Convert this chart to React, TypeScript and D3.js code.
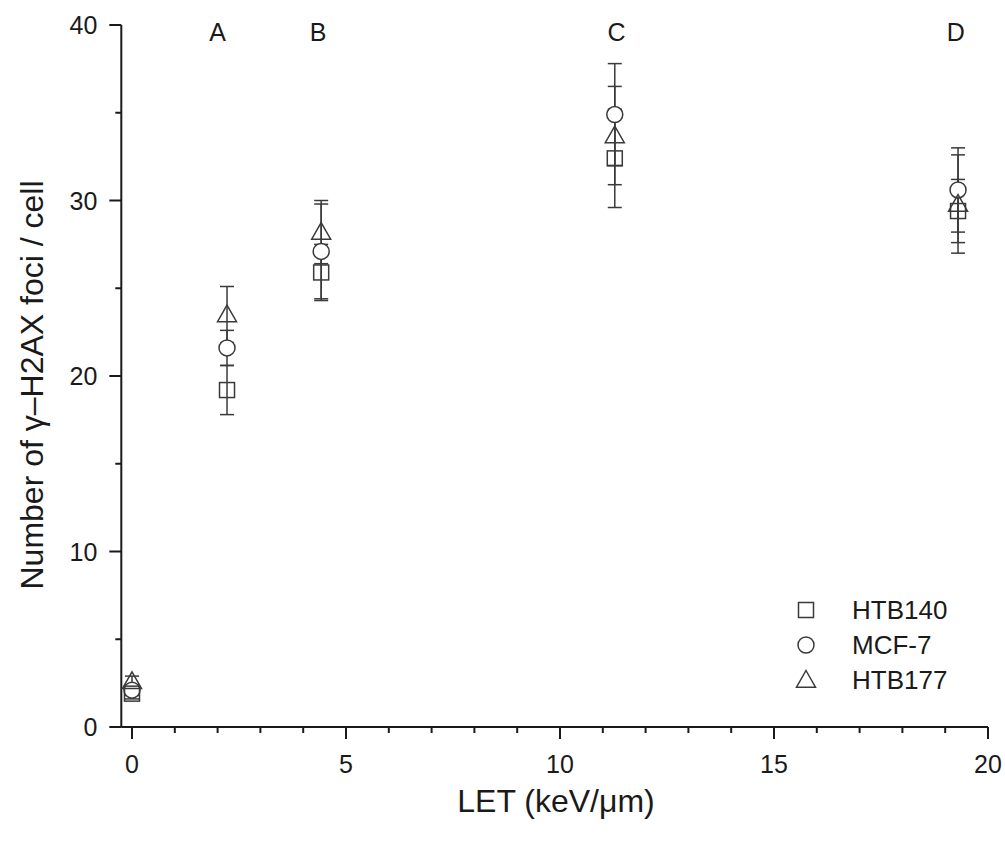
import React, { useEffect, useRef } from "react";
import * as d3 from "d3";

// ---- data ----
const seriesNames = ["HTB140", "MCF-7", "HTB177"];
const letData = [0, 2.22, 4.42, 11.28, 19.3];
const htb140Values = [1.9, 19.2, 25.9, 32.4, 29.4];
const htb140Errors = [0.3, 1.4, 1.6, 2.8, 1.8];
const mcf7Values = [2.1, 21.6, 27.1, 34.9, 30.6];
const mcf7Errors = [0.3, 1.0, 2.7, 2.9, 2.4];
const htb177Values = [2.6, 23.5, 28.2, 33.7, 29.8];
const htb177Errors = [0.3, 1.6, 1.8, 2.8, 2.8];
const regionLabels = ["A", "B", "C", "D"];
const regionLabelX = [2.0, 4.35, 11.32, 19.25];
const xMajorTicks = [0, 5, 10, 15, 20];
const yMajorTicks = [0, 10, 20, 30, 40];

const W = 1005;
const H = 842;

export default function App() {
  const ref = useRef<SVGSVGElement | null>(null);

  useEffect(() => {
    const svg = d3.select(ref.current);
    svg.selectAll("*").remove();
    const font = "'Liberation Sans', Arial, Helvetica, sans-serif";
    const ink = "#1a1a1a";
    const mark = "#3a3a3a";

    const x = d3.scaleLinear().domain([-0.25, 20]).range([121.3, 988]);
    const y = d3.scaleLinear().domain([0, 40]).range([727, 25]);

    // x axis
    const xAxis = svg.append("g").attr("transform", `translate(0,${y(0)})`);
    xAxis
      .append("line")
      .attr("x1", x(-0.25))
      .attr("x2", x(20))
      .attr("stroke", ink)
      .attr("stroke-width", 2);
    const xMinor = d3.range(0, 21, 1).filter((v) => v % 5 !== 0);
    xAxis
      .selectAll("line.minor")
      .data(xMinor)
      .join("line")
      .attr("class", "minor")
      .attr("x1", (d) => x(d))
      .attr("x2", (d) => x(d))
      .attr("y1", 0)
      .attr("y2", 6)
      .attr("stroke", ink)
      .attr("stroke-width", 2);
    xAxis
      .selectAll("line.major")
      .data(xMajorTicks)
      .join("line")
      .attr("class", "major")
      .attr("x1", (d) => x(d))
      .attr("x2", (d) => x(d))
      .attr("y1", 0)
      .attr("y2", 12)
      .attr("stroke", ink)
      .attr("stroke-width", 2);
    xAxis
      .selectAll("text")
      .data(xMajorTicks)
      .join("text")
      .attr("x", (d) => x(d))
      .attr("y", 46)
      .attr("text-anchor", "middle")
      .attr("font-family", font)
      .attr("font-size", 25)
      .attr("fill", ink)
      .text((d) => String(d));

    // y axis
    const yAxis = svg.append("g").attr("transform", `translate(${x(-0.25)},0)`);
    yAxis
      .append("line")
      .attr("y1", y(0))
      .attr("y2", y(40))
      .attr("stroke", ink)
      .attr("stroke-width", 2);
    const yMinor = [5, 15, 25, 35];
    yAxis
      .selectAll("line.minor")
      .data(yMinor)
      .join("line")
      .attr("class", "minor")
      .attr("y1", (d) => y(d))
      .attr("y2", (d) => y(d))
      .attr("x1", 0)
      .attr("x2", -6)
      .attr("stroke", ink)
      .attr("stroke-width", 2);
    yAxis
      .selectAll("line.major")
      .data(yMajorTicks)
      .join("line")
      .attr("class", "major")
      .attr("y1", (d) => y(d))
      .attr("y2", (d) => y(d))
      .attr("x1", 0)
      .attr("x2", -12)
      .attr("stroke", ink)
      .attr("stroke-width", 2);
    yAxis
      .selectAll("text")
      .data(yMajorTicks)
      .join("text")
      .attr("x", -24)
      .attr("y", (d) => y(d) + 9)
      .attr("text-anchor", "end")
      .attr("font-family", font)
      .attr("font-size", 25)
      .attr("fill", ink)
      .text((d) => String(d));

    // axis titles
    svg
      .append("text")
      .attr("x", x(10) - 4)
      .attr("y", 812)
      .attr("text-anchor", "middle")
      .attr("font-family", font)
      .attr("font-size", 32)
      .attr("fill", ink)
      .text("LET (keV/\u03BCm)");
    svg
      .append("text")
      .attr("transform", `translate(43,385) rotate(-90)`)
      .attr("text-anchor", "middle")
      .attr("font-family", font)
      .attr("font-size", 32)
      .attr("fill", ink)
      .text("Number of \u03B3\u2013H2AX foci / cell");

    // region labels
    svg
      .selectAll("text.region")
      .data(regionLabels)
      .join("text")
      .attr("class", "region")
      .attr("x", (_, i) => x(regionLabelX[i]))
      .attr("y", 41)
      .attr("text-anchor", "middle")
      .attr("font-family", font)
      .attr("font-size", 25)
      .attr("fill", ink)
      .text((d) => d);

    const series = [
      { name: seriesNames[0], values: htb140Values, errors: htb140Errors, shape: "square" },
      { name: seriesNames[1], values: mcf7Values, errors: mcf7Errors, shape: "circle" },
      { name: seriesNames[2], values: htb177Values, errors: htb177Errors, shape: "triangle" },
    ];

    const drawMarker = (g: any, shape: string, cx: number, cy: number) => {
      if (shape === "square") {
        g.append("rect")
          .attr("x", cx - 7.5)
          .attr("y", cy - 7.5)
          .attr("width", 15)
          .attr("height", 15)
          .attr("fill", "none")
          .attr("stroke", mark)
          .attr("stroke-width", 1.5);
      } else if (shape === "circle") {
        g.append("circle")
          .attr("cx", cx)
          .attr("cy", cy)
          .attr("r", 8)
          .attr("fill", "white")
          .attr("stroke", mark)
          .attr("stroke-width", 1.5);
      } else {
        const s = 9.5;
        g.append("path")
          .attr(
            "d",
            `M${cx},${cy - s} L${cx + s},${cy + s * 0.75} L${cx - s},${cy + s * 0.75} Z`
          )
          .attr("fill", "none")
          .attr("stroke", mark)
          .attr("stroke-width", 1.5);
      }
    };

    // error bars
    const eb = svg.append("g");
    series.forEach((s) => {
      letData.forEach((lx, i) => {
        const cx = x(lx);
        const top = y(s.values[i] + s.errors[i]);
        const bot = y(s.values[i] - s.errors[i]);
        eb.append("line")
          .attr("x1", cx)
          .attr("x2", cx)
          .attr("y1", top)
          .attr("y2", bot)
          .attr("stroke", mark)
          .attr("stroke-width", 1.5);
        [top, bot].forEach((yy) =>
          eb
            .append("line")
            .attr("x1", cx - 7)
            .attr("x2", cx + 7)
            .attr("y1", yy)
            .attr("y2", yy)
            .attr("stroke", mark)
            .attr("stroke-width", 1.5)
        );
      });
    });

    // markers (circles first, they are white filled)
    const mg = svg.append("g");
    [series[1], series[0], series[2]].forEach((s) => {
      letData.forEach((lx, i) => {
        drawMarker(mg, s.shape, x(lx), y(s.values[i]));
      });
    });

    // legend
    const lg = svg.append("g");
    series.forEach((s, i) => {
      const ly = 610 + i * 35;
      drawMarker(lg, s.shape, 806, ly);
      lg.append("text")
        .attr("x", 852)
        .attr("y", ly + 9)
        .attr("font-family", font)
        .attr("font-size", 26)
        .attr("fill", ink)
        .text(s.name);
    });
  }, []);

  return (
    <svg
      ref={ref}
      width={W}
      height={H}
      style={{ position: "absolute", left: 0, top: 0, background: "white" }}
    />
  );
}
